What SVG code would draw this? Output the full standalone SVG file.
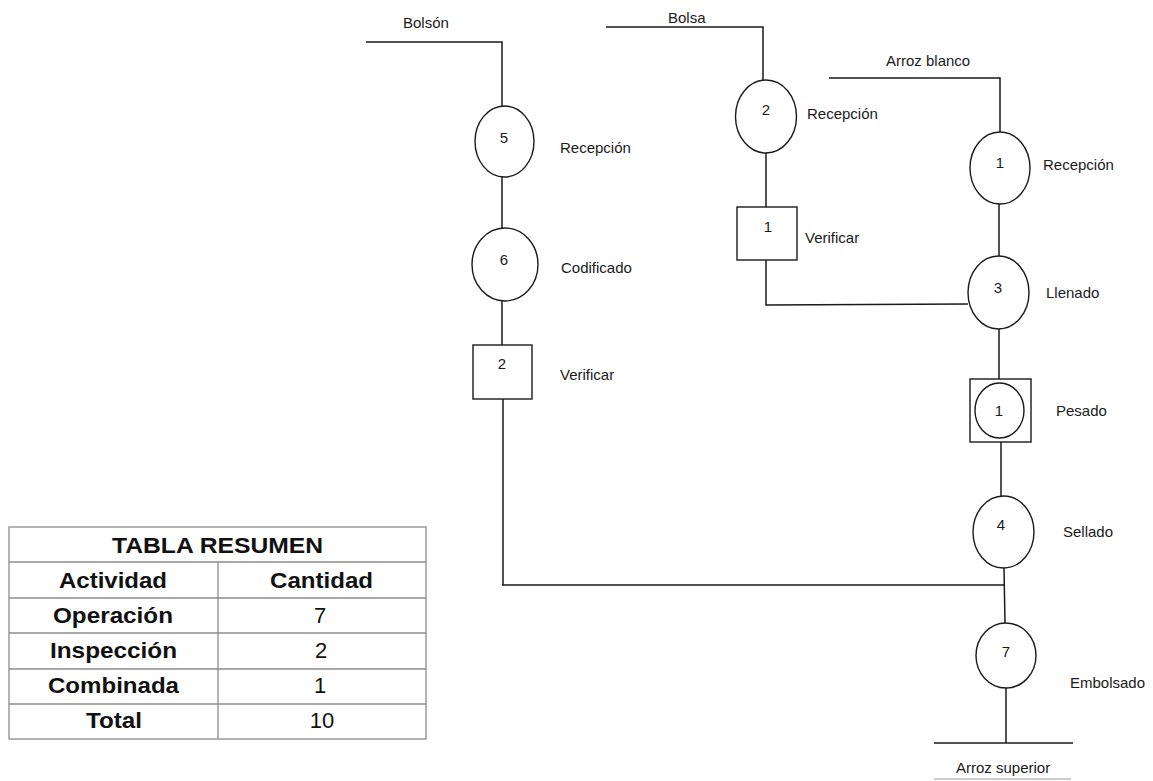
<svg xmlns="http://www.w3.org/2000/svg" width="1153" height="781" viewBox="0 0 1153 781">
  <style>
    .ln { stroke: #1a1a1a; stroke-width: 1.5; fill: none; }
    .op { stroke: #1a1a1a; stroke-width: 1.4; fill: #ffffff; }
    .lbl { font-family: "Liberation Sans", Arial, sans-serif; font-size: 15px; fill: #1a1a1a; }
    .num { font-family: "Liberation Sans", Arial, sans-serif; font-size: 15px; fill: #1a1a1a; text-anchor: middle; }
    .tb { stroke: #8c8c8c; stroke-width: 1.3; fill: none; }
    .th { font-family: "Liberation Sans", Arial, sans-serif; font-size: 22px; font-weight: bold; fill: #111; }
    .tv { font-family: "Liberation Sans", Arial, sans-serif; font-size: 22px; fill: #111; text-anchor: middle; }
  </style>

  <rect x="0" y="0" width="1153" height="781" fill="#ffffff"/>

  <!-- connectors -->
  <g id="connectors">
    <!-- Bolsón input -->
    <polyline class="ln" points="366,42 502,42 502,106"/>
    <line class="ln" x1="502" y1="177" x2="502" y2="228"/>
    <line class="ln" x1="502" y1="301" x2="502" y2="345"/>
    <polyline class="ln" points="503,399 503,585"/>
    <line class="ln" x1="502" y1="585" x2="1004" y2="585"/>
    <!-- Bolsa input -->
    <polyline class="ln" points="606,27 763,27 763,80"/>
    <line class="ln" x1="766" y1="153" x2="766" y2="207"/>
    <polyline class="ln" points="766,260 766,305 968,304"/>
    <!-- Arroz blanco input -->
    <polyline class="ln" points="829,78 1000,78 1000,132"/>
    <line class="ln" x1="999" y1="204" x2="999" y2="256"/>
    <line class="ln" x1="999" y1="329" x2="999" y2="379"/>
    <line class="ln" x1="1001" y1="442" x2="1001" y2="496"/>
    <line class="ln" x1="1004" y1="568" x2="1005" y2="623"/>
    <line class="ln" x1="1006" y1="688" x2="1006" y2="743"/>
    <!-- output -->
    <line class="ln" x1="934" y1="743" x2="1073" y2="743"/>
    <line x1="934" y1="779" x2="1071" y2="779" stroke="#9a9a9a" stroke-width="1"/>
  </g>

  <!-- input labels -->
  <text class="lbl" x="403" y="28">Bolsón</text>
  <text class="lbl" x="668" y="23">Bolsa</text>
  <text class="lbl" x="886" y="66">Arroz blanco</text>
  <text class="lbl" x="956" y="773">Arroz superior</text>

  <!-- operations -->
  <g id="op5">
    <ellipse class="op" cx="504.5" cy="141.5" rx="29.5" ry="35.5"/>
    <text class="num" x="504" y="143">5</text>
    <text class="lbl" x="560" y="153">Recepción</text>
  </g>
  <g id="op6">
    <ellipse class="op" cx="505" cy="264.5" rx="33" ry="36.5"/>
    <text class="num" x="504" y="265">6</text>
    <text class="lbl" x="561" y="273">Codificado</text>
  </g>
  <g id="insp2">
    <rect class="op" x="473" y="345" width="59" height="54"/>
    <text class="num" x="502" y="369">2</text>
    <text class="lbl" x="560" y="380">Verificar</text>
  </g>
  <g id="op2">
    <ellipse class="op" cx="766" cy="116.5" rx="30.5" ry="36.5"/>
    <text class="num" x="766" y="115">2</text>
    <text class="lbl" x="807" y="119">Recepción</text>
  </g>
  <g id="insp1">
    <rect class="op" x="737" y="207" width="60" height="53"/>
    <text class="num" x="768" y="232">1</text>
    <text class="lbl" x="805" y="243">Verificar</text>
  </g>
  <g id="op1">
    <ellipse class="op" cx="1000" cy="168" rx="30" ry="36"/>
    <text class="num" x="1000" y="168">1</text>
    <text class="lbl" x="1043" y="170">Recepción</text>
  </g>
  <g id="op3">
    <ellipse class="op" cx="998.5" cy="292.5" rx="30.5" ry="36.5"/>
    <text class="num" x="998" y="293">3</text>
    <text class="lbl" x="1046" y="298">Llenado</text>
  </g>
  <g id="comb1">
    <rect class="op" x="970" y="379" width="61" height="63"/>
    <ellipse class="op" cx="999.5" cy="410.5" rx="24.5" ry="27.5"/>
    <text class="num" x="999" y="416">1</text>
    <text class="lbl" x="1056" y="416">Pesado</text>
  </g>
  <g id="op4">
    <ellipse class="op" cx="1003.5" cy="532" rx="30.5" ry="36"/>
    <text class="num" x="1001" y="530">4</text>
    <text class="lbl" x="1063" y="537">Sellado</text>
  </g>
  <g id="op7">
    <ellipse class="op" cx="1006" cy="655.5" rx="30" ry="32.5"/>
    <text class="num" x="1006" y="657">7</text>
    <text class="lbl" x="1070" y="688">Embolsado</text>
  </g>

  <!-- summary table -->
  <g id="tabla-resumen">
    <rect class="tb" x="9" y="527" width="417" height="212" fill="#ffffff"/>
    <line class="tb" x1="9" y1="562" x2="426" y2="562"/>
    <line class="tb" x1="9" y1="598" x2="426" y2="598"/>
    <line class="tb" x1="9" y1="633" x2="426" y2="633"/>
    <line class="tb" x1="9" y1="669" x2="426" y2="669"/>
    <line class="tb" x1="9" y1="704" x2="426" y2="704"/>
    <line class="tb" x1="218" y1="562" x2="218" y2="739"/>

    <text class="th" x="112" y="553" textLength="211" lengthAdjust="spacingAndGlyphs">TABLA RESUMEN</text>
    <text class="th" x="59" y="588" textLength="108" lengthAdjust="spacingAndGlyphs">Actividad</text>
    <text class="th" x="270" y="588" textLength="103" lengthAdjust="spacingAndGlyphs">Cantidad</text>
    <text class="th" x="53" y="623" textLength="120" lengthAdjust="spacingAndGlyphs">Operación</text>
    <text class="th" x="50" y="658" textLength="127" lengthAdjust="spacingAndGlyphs">Inspección</text>
    <text class="th" x="48" y="693" textLength="131" lengthAdjust="spacingAndGlyphs">Combinada</text>
    <text class="th" x="86" y="728" textLength="56" lengthAdjust="spacingAndGlyphs">Total</text>

    <text class="tv" x="320" y="623">7</text>
    <text class="tv" x="321" y="658">2</text>
    <text class="tv" x="320" y="693">1</text>
    <text class="tv" x="322" y="728">10</text>
  </g>
</svg>
